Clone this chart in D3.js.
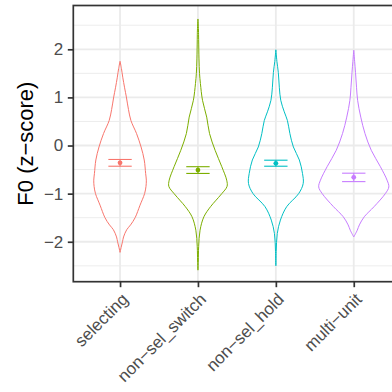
<!DOCTYPE html>
<html>
<head>
<meta charset="utf-8">
<script src="https://cdn.jsdelivr.net/npm/d3@7"></script>
<style>
  body { margin: 0; background: #fff; }
  svg { display: block; overflow: hidden; }
</style>
</head>
<body>
<div id="vis"></div>
<script>
const WIDTH = 392;
const HEIGHT = 392;
const MARGIN = { LEFT: 73.3, RIGHT: -8.5, TOP: 5.5, BOTTOM: 110.3 };
const FONT = "Liberation Sans, Arial, sans-serif";

// categories and colours (ggplot default hue palette)
const categories = ["selecting", "non\u2212sel_switch", "non\u2212sel_hold", "multi\u2212unit"];
const colors = ["#F8766D", "#7CAE00", "#00BFC4", "#C77CFF"];

// summary: mean and confidence interval per category
const means = [-0.36, -0.51, -0.37, -0.66];
const ciLow = [-0.43, -0.58, -0.43, -0.75];
const ciHigh = [-0.29, -0.44, -0.305, -0.575];

// violin outlines: [value, relative density]
const violinSelecting = [
  [1.75, 0], [1.6, 0.04], [1.42, 0.077], [1.2, 0.13], [1.01, 0.18], [0.75, 0.24],
  [0.52, 0.31], [0.25, 0.47], [-0.03, 0.6], [-0.3, 0.69], [-0.58, 0.73], [-0.72, 0.75],
  [-0.85, 0.74], [-1.0, 0.7], [-1.24, 0.57], [-1.5, 0.43], [-1.65, 0.3], [-1.75, 0.19],
  [-1.9, 0.1], [-2.0, 0.07], [-2.12, 0.03], [-2.22, 0]
];
const violinSwitch = [
  [2.63, 0], [2.4, 0.015], [2.2, 0.02], [1.8, 0.03], [1.5, 0.045], [1.29, 0.07],
  [0.94, 0.13], [0.59, 0.25], [0.25, 0.33], [-0.1, 0.49], [-0.44, 0.68], [-0.72, 0.82],
  [-0.85, 0.83], [-1.0, 0.68], [-1.15, 0.5], [-1.27, 0.36], [-1.48, 0.17], [-1.76, 0.06],
  [-2.1, 0.02], [-2.4, 0.01], [-2.59, 0]
];
const violinHold = [
  [1.99, 0], [1.75, 0.03], [1.52, 0.07], [1.2, 0.1], [0.94, 0.14], [0.7, 0.24],
  [0.52, 0.33], [0.25, 0.4], [-0.03, 0.5], [-0.3, 0.67], [-0.58, 0.76], [-0.79, 0.78],
  [-1.0, 0.65], [-1.27, 0.31], [-1.55, 0.13], [-1.83, 0.04], [-2.2, 0.01], [-2.5, 0]
];
const violinMulti = [
  [1.98, 0], [1.75, 0.025], [1.52, 0.05], [1.2, 0.08], [0.94, 0.11], [0.59, 0.2],
  [0.25, 0.32], [-0.1, 0.5], [-0.44, 0.76], [-0.72, 0.95], [-0.86, 1.0], [-1.0, 0.9],
  [-1.27, 0.58], [-1.48, 0.3], [-1.65, 0.16], [-1.76, 0.1], [-1.9, 0]
];
const violins = [violinSelecting, violinSwitch, violinHold, violinMulti];

const yTicks = [-2, -1, 0, 1, 2];
const yMinor = [-2.5, -1.5, -0.5, 0.5, 1.5, 2.5];

const svg = d3
  .select("#vis")
  .append("svg")
  .attr("width", WIDTH)
  .attr("height", HEIGHT);

const panelRight = WIDTH - MARGIN.RIGHT;
const panelBottom = HEIGHT - MARGIN.BOTTOM;

// discrete x with ggplot's 0.6 expansion on each side
const xScale = d3
  .scalePoint()
  .domain(categories)
  .range([MARGIN.LEFT, panelRight])
  .padding(0.6);
const step = xScale.step();

const yScale = d3
  .scaleLinear()
  .domain([-2.83, 2.91])
  .range([panelBottom, MARGIN.TOP]);

const wScale = d3.scaleLinear().domain([0, 1]).range([0, 0.45 * step]);

// grid
const grid = svg.append("g");
grid
  .selectAll(".minor")
  .data(yMinor)
  .enter()
  .append("line")
  .attr("x1", MARGIN.LEFT)
  .attr("x2", panelRight)
  .attr("y1", (d) => yScale(d))
  .attr("y2", (d) => yScale(d))
  .attr("stroke", "#EBEBEB")
  .attr("stroke-width", 0.9);
grid
  .selectAll(".major")
  .data(yTicks)
  .enter()
  .append("line")
  .attr("x1", MARGIN.LEFT)
  .attr("x2", panelRight)
  .attr("y1", (d) => yScale(d))
  .attr("y2", (d) => yScale(d))
  .attr("stroke", "#EBEBEB")
  .attr("stroke-width", 1.8);
grid
  .selectAll(".xmajor")
  .data(categories)
  .enter()
  .append("line")
  .attr("x1", (d) => xScale(d))
  .attr("x2", (d) => xScale(d))
  .attr("y1", MARGIN.TOP)
  .attr("y2", panelBottom)
  .attr("stroke", "#EBEBEB")
  .attr("stroke-width", 1.8);

// violins
const area = d3
  .area()
  .curve(d3.curveCatmullRom)
  .y((d) => yScale(d[0]));

violins.forEach((v, i) => {
  const xc = xScale(categories[i]);
  svg
    .append("path")
    .datum(v)
    .attr(
      "d",
      area.x0((d) => xc - wScale(d[1])).x1((d) => xc + wScale(d[1]))
    )
    .attr("fill", "none")
    .attr("stroke", colors[i])
    .attr("stroke-width", 1);
});

// error bars and means
const ebHalf = 0.15 * step;
categories.forEach((c, i) => {
  const xc = xScale(c);
  const g = svg.append("g").attr("stroke", colors[i]).attr("stroke-width", 1.1);
  [ciLow[i], ciHigh[i]].forEach((v) => {
    g.append("line")
      .attr("x1", xc - ebHalf)
      .attr("x2", xc + ebHalf)
      .attr("y1", yScale(v))
      .attr("y2", yScale(v));
  });
  g.append("line")
    .attr("x1", xc)
    .attr("x2", xc)
    .attr("y1", yScale(ciLow[i]))
    .attr("y2", yScale(ciHigh[i]));
  svg
    .append("circle")
    .attr("cx", xc)
    .attr("cy", yScale(means[i]))
    .attr("r", 2.4)
    .attr("fill", colors[i]);
});

// panel border
svg
  .append("rect")
  .attr("x", MARGIN.LEFT)
  .attr("y", MARGIN.TOP)
  .attr("width", panelRight - MARGIN.LEFT)
  .attr("height", panelBottom - MARGIN.TOP)
  .attr("fill", "none")
  .attr("stroke", "#333333")
  .attr("stroke-width", 1.7);

// axes
const yAxis = svg
  .append("g")
  .attr("transform", `translate(${MARGIN.LEFT},0)`)
  .call(
    d3
      .axisLeft(yScale)
      .tickValues(yTicks)
      .tickSize(5.5)
      .tickPadding(4.5)
      .tickFormat((d) => (d < 0 ? "\u2212" + Math.abs(d) : d))
  );

const xAxis = svg
  .append("g")
  .attr("transform", `translate(0,${panelBottom})`)
  .call(d3.axisBottom(xScale).tickSize(5.5).tickFormat(""));

[yAxis, xAxis].forEach((ax) => {
  ax.select(".domain").remove();
  ax.selectAll(".tick line").attr("stroke", "#333333").attr("stroke-width", 1.7);
  ax.selectAll("text")
    .attr("fill", "#4D4D4D")
    .style("font-family", FONT)
    .style("font-size", "17px");
});

// rotated x labels
svg
  .append("g")
  .selectAll("text")
  .data(categories)
  .enter()
  .append("text")
  .attr("transform", (d) => `translate(${xScale(d) + 0.5},${panelBottom + 10}) rotate(-45)`)
  .attr("text-anchor", "end")
  .attr("dy", "0.72em")
  .attr("fill", "#4D4D4D")
  .style("font-family", FONT)
  .style("font-size", "17px")
  .text((d) => d);

// y title
svg
  .append("text")
  .attr("transform", `translate(33.3,${(MARGIN.TOP + panelBottom) / 2}) rotate(-90)`)
  .attr("text-anchor", "middle")
  .attr("fill", "#000")
  .style("font-family", FONT)
  .style("font-size", "22px")
  .text("F0 (z\u2212score)");
</script>
</body>
</html>
